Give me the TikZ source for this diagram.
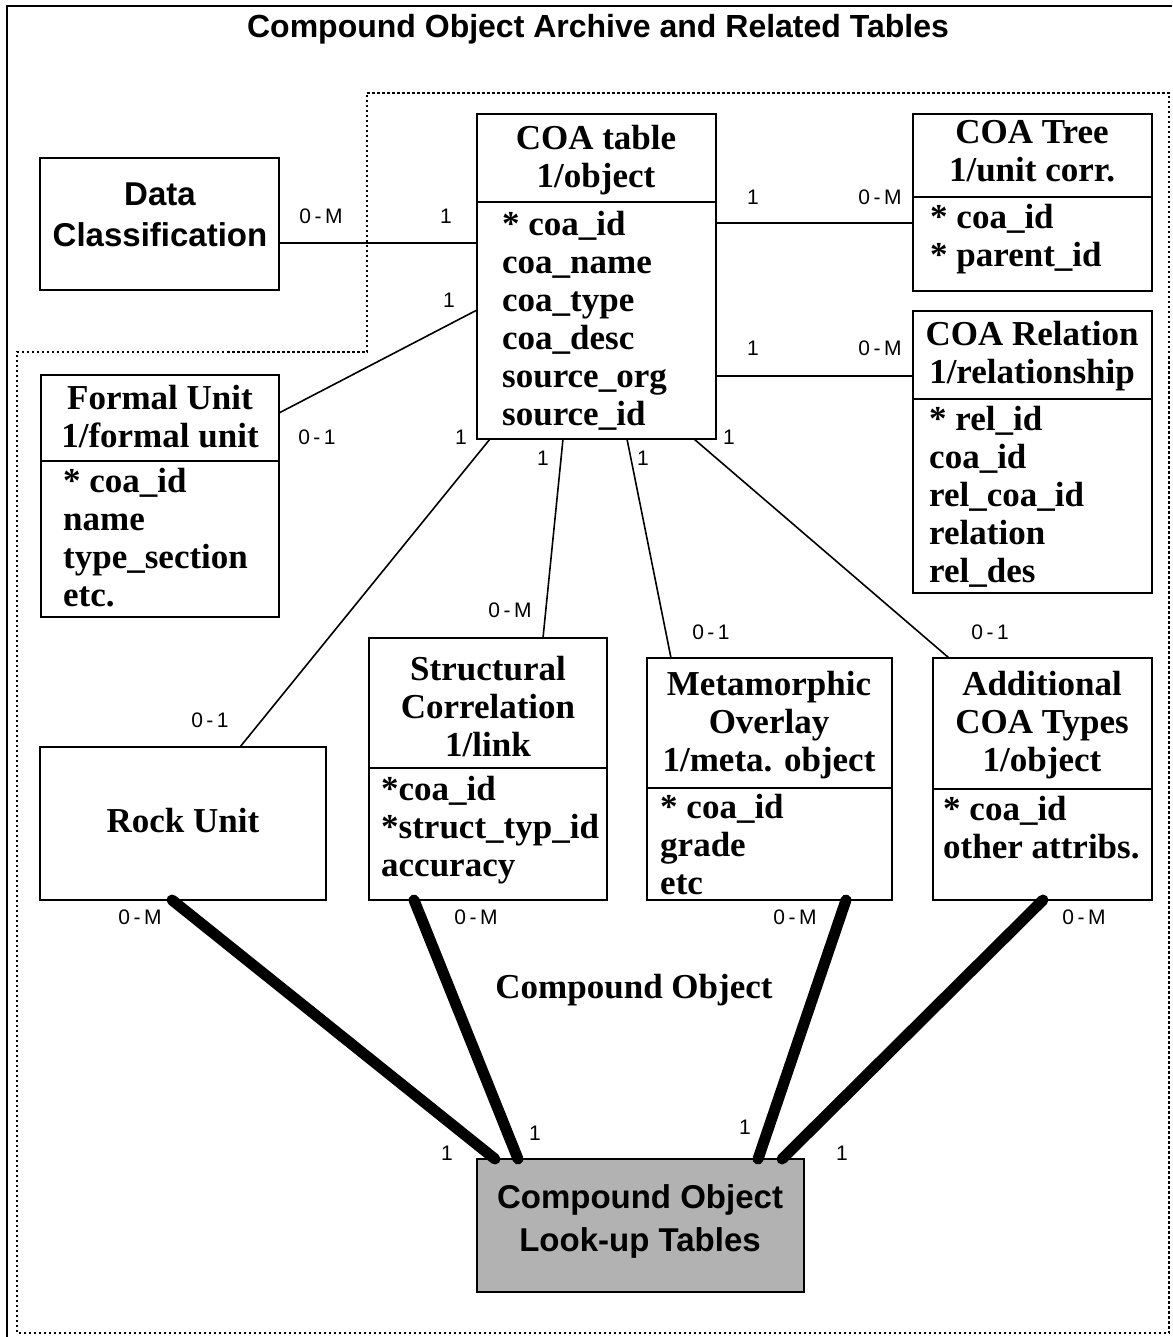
\documentclass[tikz,border=0pt]{standalone}
\usepackage{fontspec}
\setmainfont{Liberation Serif}
\newfontfamily\sansf{Liberation Sans}
\usetikzlibrary{calc}
\tikzset{
  box/.style={draw, line width=2.4pt, inner sep=0pt, outer sep=0pt, anchor=north west},
  divider/.style={line width=2.4pt},
  ser/.style={font=\fontsize{35}{38}\selectfont\bfseries, inner sep=0pt},
  hdr/.style={ser, align=center, anchor=base},
  fld/.style={ser, align=left, anchor=base west},
  sanslbl/.style={font=\sansf\fontsize{33}{41}\selectfont\bfseries, inner sep=0pt, align=center, anchor=base},
  card/.style={font=\sansf\fontsize{21}{24}\selectfont, inner sep=0pt},
  rel/.style={line width=1.6pt},
  heavy/.style={line width=11pt, line cap=round},
  frame/.style={line width=2.5pt, dash pattern=on 2.5pt off 2.5pt}
}
\begin{document}
\begin{tikzpicture}[x=1pt,y=-1pt]
\useasboundingbox (0,0) rectangle (1172,1337);
% outer border and dotted region
\draw[line width=2pt] (7,1337) -- (7,6) -- (1172,6);
\draw[frame] (367,93) -- (1169,93) -- (1169,1333) -- (17,1333) -- (17,352) -- (367,352) -- cycle;

% title
\node[sanslbl, font=\sansf\fontsize{32}{38}\selectfont\bfseries] (title) at (598,38) {Compound Object Archive and Related Tables};

% boxes
\node[box, minimum width=239pt, minimum height=132pt] (dc) at (40,158) {};
\node[box, minimum width=239pt, minimum height=325pt] (coa) at (477,114) {};
\node[box, minimum width=239pt, minimum height=177pt] (tree) at (913,114) {};
\node[box, minimum width=239pt, minimum height=282pt] (rel) at (913,311) {};
\node[box, minimum width=238pt, minimum height=242pt] (fu) at (41,375) {};
\node[box, minimum width=286pt, minimum height=153pt] (rock) at (40,747) {};
\node[box, minimum width=238pt, minimum height=262pt] (sc) at (369,638) {};
\node[box, minimum width=245pt, minimum height=242pt] (mo) at (647,658) {};
\node[box, minimum width=219pt, minimum height=242pt] (act) at (933,658) {};
\node[box, minimum width=327pt, minimum height=133pt, fill=gray!60!white] (lu) at (477,1159) {};

% dividers
\draw[divider] ([yshift=-88pt]coa.north west) -- ([yshift=-88pt]coa.north east);
\draw[divider] ([yshift=-83pt]tree.north west) -- ([yshift=-83pt]tree.north east);
\draw[divider] ([yshift=-88pt]rel.north west) -- ([yshift=-88pt]rel.north east);
\draw[divider] ([yshift=-86pt]fu.north west) -- ([yshift=-86pt]fu.north east);
\draw[divider] ([yshift=-130pt]sc.north west) -- ([yshift=-130pt]sc.north east);
\draw[divider] ([yshift=-130pt]mo.north west) -- ([yshift=-130pt]mo.north east);
\draw[divider] ([yshift=-131pt]act.north west) -- ([yshift=-131pt]act.north east);

% texts (base anchor = baseline of the last line)
\node[sanslbl] (dcT) at (160,247) {Data\\Classification};
\node[hdr] (coaH) at (596,188) {COA table\\1/object};
\node[fld] (coaF) at (502,425) {* coa\_id\\coa\_name\\coa\_type\\coa\_desc\\source\_org\\source\_id};
\node[hdr] (treeH) at (1032,182) {COA Tree\\1/unit corr.};
\node[fld] (treeF) at (930,267) {* coa\_id\\* parent\_id};
\node[hdr] (relH) at (1032,383) {COA Relation\\1/relationship};
\node[fld] (relF) at (929,582) {* rel\_id\\coa\_id\\rel\_coa\_id\\relation\\rel\_des};
\node[hdr] (fuH) at (160,447) {Formal Unit\\1/formal unit};
\node[fld] (fuF) at (63,606) {* coa\_id\\name\\type\_section\\etc.};
\node[hdr] (rockT) at (183,832) {Rock Unit};
\node[hdr] (scH) at (488,756) {Structural\\Correlation\\1/link};
\node[fld] (scF) at (381,876) {*coa\_id\\*struct\_typ\_id\\accuracy};
\node[hdr] (moH) at (769,771) {Metamorphic\\Overlay\\1/meta. object};
\node[fld] (moF) at (660,894) {* coa\_id\\grade\\etc};
\node[hdr] (actH) at (1042,771) {Additional\\COA Types\\1/object};
\node[fld] (actF) at (943,858) {* coa\_id\\other attribs.};
\node[sanslbl, font=\sansf\fontsize{33}{43}\selectfont\bfseries] (luT) at (640,1251) {Compound Object\\Look-up Tables};
\node[hdr] (coT) at (634,998) {Compound Object};

% thin connectors
\coordinate (dcL) at ([yshift=-19pt]dc.east);
\draw[rel] (dcL) -- (dcL -| coa.west);
\coordinate (treeL) at ([yshift=-109pt]tree.north west);
\draw[rel] (treeL -| coa.east) -- (treeL);
\coordinate (relL) at ([yshift=-65pt]rel.north west);
\draw[rel] (relL -| coa.east) -- (relL);
\draw[rel] ([yshift=-38pt]fu.north east) -- ([yshift=-196pt]coa.north west);
\draw[rel] ([xshift=13pt]coa.south west) -- ([xshift=200pt]rock.north west);
\draw[rel] ([xshift=86pt]coa.south west) -- ([xshift=174pt]sc.north west);
\draw[rel] ([xshift=150pt]coa.south west) -- ([xshift=24pt]mo.north west);
\draw[rel] ([xshift=217pt]coa.south west) -- ([xshift=16pt]act.north west);

% heavy connectors
\draw[heavy] ([xshift=132pt]rock.south west) -- ([xshift=18pt]lu.north west);
\draw[heavy] ([xshift=45pt]sc.south west) -- ([xshift=41pt]lu.north west);
\draw[heavy] ([xshift=199pt]mo.south west) -- ([xshift=281pt]lu.north west);
\draw[heavy] ([xshift=110pt]act.south west) -- ([xshift=305pt]lu.north west);

% cardinalities
\node[card] (c1) at (321,216) {0\,-\,M};
\node[card] (c2) at (446,216) {1};
\node[card] (c3) at (753,197) {1};
\node[card] (c4) at (880,197) {0\,-\,M};
\node[card] (c5) at (753,348) {1};
\node[card] (c6) at (880,348) {0\,-\,M};
\node[card] (c7) at (449,300) {1};
\node[card] (c8) at (317,437) {0\,-\,1};
\node[card] (c9) at (461,437) {1};
\node[card] (c10) at (210,720) {0\,-\,1};
\node[card] (c11) at (543,458) {1};
\node[card] (c12) at (510,610) {0\,-\,M};
\node[card] (c13) at (643,458) {1};
\node[card] (c14) at (711,632) {0\,-\,1};
\node[card] (c15) at (729,437) {1};
\node[card] (c16) at (990,632) {0\,-\,1};
\node[card] (c17) at (140,917) {0\,-\,M};
\node[card] (c18) at (447,1153) {1};
\node[card] (c19) at (476,917) {0\,-\,M};
\node[card] (c20) at (535,1133) {1};
\node[card] (c21) at (795,917) {0\,-\,M};
\node[card] (c22) at (745,1127) {1};
\node[card] (c23) at (1084,917) {0\,-\,M};
\node[card] (c24) at (842,1153) {1};
\end{tikzpicture}
\end{document}
